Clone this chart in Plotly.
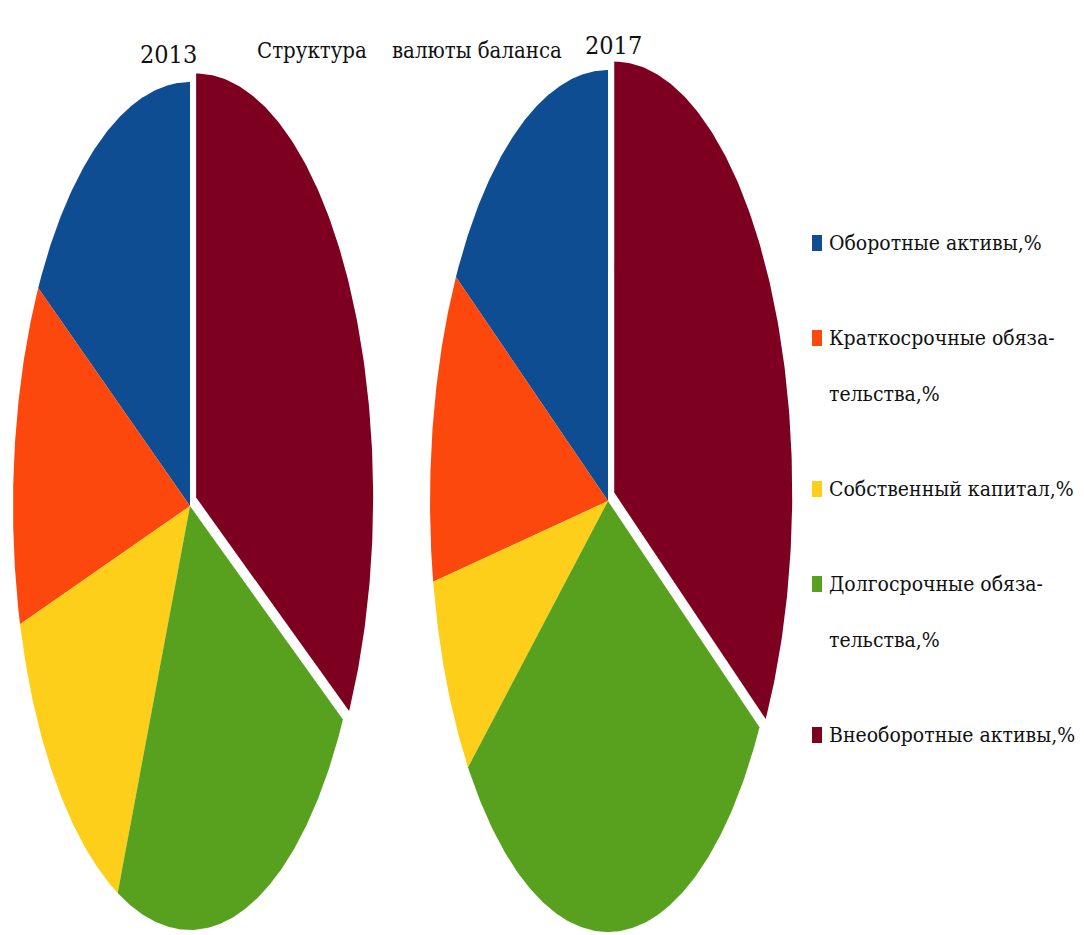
import numpy as np
import plotly.graph_objects as go

# ---- data -------------------------------------------------------------
categories = [
    "Оборотные активы,%",
    "Краткосрочные обяза-<br>тельства,%",
    "Собственный капитал,%",
    "Долгосрочные обяза-<br>тельства,%",
    "Внеоборотные активы,%",
]
years = ["2013", "2017"]
values_2013 = [16.4, 13.1, 13.8, 23.3, 33.4]
values_2017 = [16.3, 11.7, 7.6, 30.6, 33.8]
title_text = "Структура\u00a0\u00a0\u00a0 валюты баланса"

# ---- style ------------------------------------------------------------
colors = ["#0E4D92", "#FC480C", "#FDCF1A", "#58A11F", "#7E0020"]
pulls = [0, 0, 0, 0, 0.04]
FONT = "'DejaVu Serif Condensed', 'DejaVu Serif', serif"
W, H = 1084, 935

# pie frames (centre x, centre y, radius x, radius y) in pixel space
frames = [(190, 506, 177, 424), (608, 501, 178, 431)]


def wedges(values, cx, cy, rx, ry):
    """Elliptical pie wedges, counter-clockwise from 12 o'clock."""
    total = float(sum(values))
    start = 0.0
    out = []
    for v, p in zip(values, pulls):
        span = v / total * 2 * np.pi
        t = np.linspace(start, start - span, 160)
        mid = start - span / 2
        ox = cx + rx * p * np.sin(mid)
        oy = cy - ry * p * np.cos(mid)
        xs = np.concatenate([[ox], ox + rx * np.sin(t), [ox]])
        ys = np.concatenate([[oy], oy - ry * np.cos(t), [oy]])
        out.append((xs, ys))
        start -= span
    return out


fig = go.Figure()
for vals, (cx, cy, rx, ry) in zip([values_2013, values_2017], frames):
    for (xs, ys), col, name in zip(wedges(vals, cx, cy, rx, ry), colors, categories):
        fig.add_trace(go.Scatter(
            x=xs, y=ys, mode="lines", fill="toself",
            fillcolor=col, line=dict(width=0, color=col),
            name=name.replace("<br>", ""), hoverinfo="name",
            showlegend=False,
        ))

# ---- texts --------------------------------------------------------------
annotations = [
    dict(x=168, y=54, text=years[0], font=dict(size=25)),
    dict(x=613, y=45, text=years[1], font=dict(size=25)),
    dict(x=409, y=50, text=title_text, font=dict(size=22)),
]

# legend: swatch + one annotation per text line
shapes = []
leg_x, leg_y, line_gap, item_gap = 812, 243, 56, 95
y = leg_y
for name, col in zip(categories, colors):
    shapes.append(dict(type="rect", xref="x", yref="y",
                       x0=leg_x, x1=leg_x + 10, y0=y - 8, y1=y + 8,
                       fillcolor=col, line=dict(width=0)))
    lines = name.split("<br>")
    for i, ln in enumerate(lines):
        annotations.append(dict(x=leg_x + 15, y=y + i * line_gap, text=ln,
                                xanchor="left", font=dict(size=21)))
    y += item_gap + (len(lines) - 1) * line_gap

for a in annotations:
    a.setdefault("xanchor", "center")
    a.update(xref="x", yref="y", yanchor="middle", showarrow=False)
    a["font"].update(family=FONT, color="#111111")

fig.update_layout(
    width=W, height=H,
    margin=dict(l=0, r=0, t=0, b=0),
    paper_bgcolor="white", plot_bgcolor="white",
    xaxis=dict(range=[0, W], visible=False, fixedrange=True),
    yaxis=dict(range=[H, 0], visible=False, fixedrange=True),
    annotations=annotations,
    shapes=shapes,
    showlegend=False,
)

fig.write_html("out.html")
